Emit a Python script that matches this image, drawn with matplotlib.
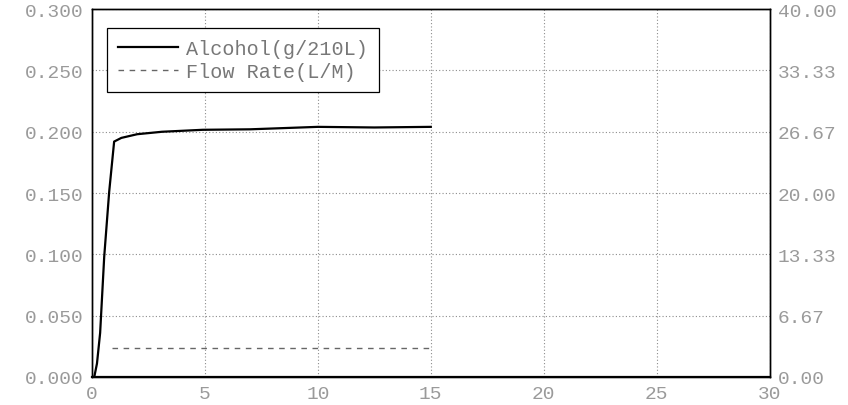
import numpy as np
import matplotlib.pyplot as plt

# breath test trace
time_s = [0, 0.1, 0.22, 0.36, 0.54, 0.76, 0.98, 1.3, 2.0, 3.1, 4.9, 7.0, 10.0, 12.5, 15.0]
alcohol = [0, 0.0, 0.011, 0.036, 0.098, 0.151, 0.192, 0.195, 0.198, 0.200, 0.2016, 0.202, 0.204, 0.2035, 0.204]

flow_t = [0.9, 15.0]
flow_rate = [3.2, 3.2]

xticks = [0, 5, 10, 15, 20, 25, 30]
yticks = [0.0, 0.05, 0.10, 0.15, 0.20, 0.25, 0.30]
rticks = [0.0, 6.67, 13.33, 20.0, 26.67, 33.33, 40.0]

txt = '#9a9a9a'
font = 'Liberation Mono'

fig = plt.figure(figsize=(8.48, 4.06), dpi=100)
ax = fig.add_axes([0.1085, 0.069, 0.799, 0.906])
ax2 = ax.twinx()

ax.plot(time_s, alcohol, color='k', lw=1.6, label='Alcohol(g/210L)')
ax2.plot(flow_t, flow_rate, color='#666666', lw=1.0, ls=(0, (4, 4)), label='Flow Rate(L/M)')

ax.set_xlim(0, 30)
ax.set_ylim(0, 0.3)
ax2.set_ylim(0, 40)
ax.set_xticks(xticks)
ax.set_yticks(yticks)
ax2.set_yticks(rticks)
ax.set_xticklabels([str(v) for v in xticks])
ax.set_yticklabels(['%.3f' % v for v in yticks])
ax2.set_yticklabels(['%.2f' % v for v in rticks])

ax.grid(True, color='#8c8c8c', ls=(0, (1, 2)), lw=0.8)
for a in (ax, ax2):
    a.tick_params(length=0, pad=6, labelsize=14, labelcolor=txt)
    for lab in a.get_xticklabels() + a.get_yticklabels():
        lab.set_family(font)
    for s in a.spines.values():
        s.set_color('k')
        s.set_linewidth(1.0)
ax.spines['bottom'].set_linewidth(1.6)

h1, l1 = ax.get_legend_handles_labels()
h2, l2 = ax2.get_legend_handles_labels()
leg = ax.legend(h1 + h2, l1 + l2, loc='upper left', bbox_to_anchor=(0.022, 0.948),
                borderaxespad=0, fancybox=False, framealpha=1, edgecolor='k',
                handlelength=3.0, handletextpad=0.4,
                prop={'family': font, 'size': 14.5}, borderpad=0.55, labelspacing=0.2)
leg.get_frame().set_linewidth(0.9)
for t in leg.get_texts():
    t.set_color('#777777')

fig.savefig('out.png', dpi=100)
